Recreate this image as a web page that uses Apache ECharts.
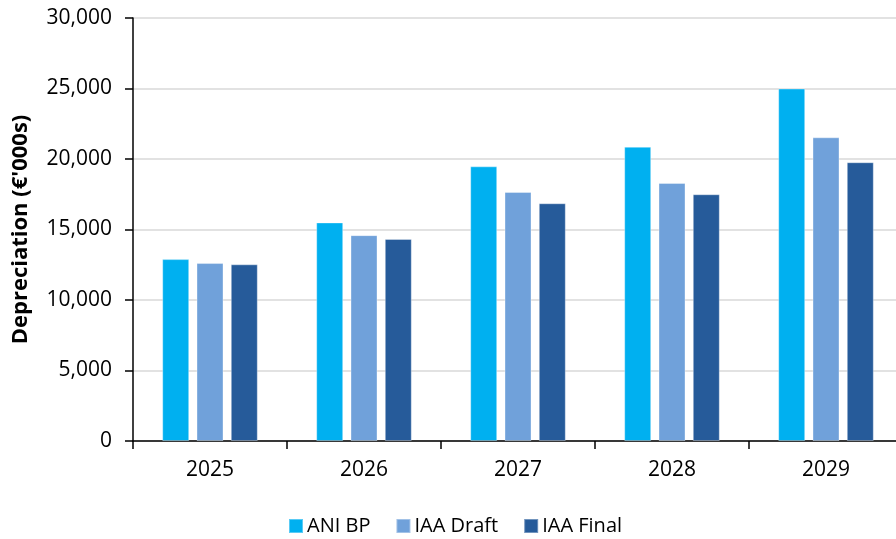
<!DOCTYPE html>
<html>
<head>
<meta charset="utf-8">
<script src="https://cdn.jsdelivr.net/npm/echarts@6/dist/echarts.min.js"></script>
<style>
  html, body { margin: 0; padding: 0; background: #ffffff; }
  #chart { width: 896px; height: 539px; }
</style>
</head>
<body>
<div id="chart"></div>
<script>
// Depreciation by year, three scenarios (€'000s)
const years = ['2025', '2026', '2027', '2028', '2029'];
const aniBP = [12900, 15500, 19480, 20870, 25000];
const iaaDraft = [12620, 14600, 17660, 18300, 21540];
const iaaFinal = [12530, 14330, 16860, 17500, 19770];
const seriesNames = ['ANI BP', 'IAA Draft', 'IAA Final'];
const seriesColors = ['#00B0F0', '#70A1DA', '#265B9A'];

const font = '"Open Sans", "Liberation Sans", sans-serif';
const chart = echarts.init(document.getElementById('chart'), null, { renderer: 'canvas' });

const makeBar = (name, data, color) => ({
  name: name,
  type: 'bar',
  data: data,
  barWidth: 27,
  barGap: '27%',
  itemStyle: { color: color, borderColor: 'rgba(255,255,255,0.35)', borderWidth: 1 }
});

chart.setOption({
  animation: false,
  backgroundColor: '#ffffff',
  textStyle: { fontFamily: font },
  grid: { left: 133, top: 18, bottom: 98, width: 770, containLabel: false, outerBoundsMode: 'none' },
  legend: {
    bottom: -2,
    left: 283,
    itemWidth: 14,
    itemHeight: 14,
    itemGap: 25,
    icon: 'rect',
    textStyle: { fontSize: 20, color: '#000000', fontFamily: font, padding: [0, 0, 0, -1] },
    data: seriesNames
  },
  xAxis: {
    type: 'category',
    data: years,
    axisLine: { lineStyle: { color: '#000000', width: 1.5 } },
    axisTick: { show: true, length: 8, alignWithLabel: false, lineStyle: { color: '#000000', width: 1.5 } },
    axisLabel: { fontSize: 21, color: '#000000', margin: 19, fontFamily: font }
  },
  yAxis: {
    type: 'value',
    min: 0,
    max: 30000,
    interval: 5000,
    name: "Depreciation (€'000s)",
    nameLocation: 'middle',
    nameGap: 101,
    nameTextStyle: { fontSize: 22, fontWeight: 'bold', color: '#000000', fontFamily: font },
    axisLine: { show: true, lineStyle: { color: '#000000', width: 1.5 } },
    axisTick: { show: true, length: 8, lineStyle: { color: '#000000', width: 1.5 } },
    axisLabel: {
      fontSize: 21, color: '#000000', margin: 21, fontFamily: font,
      formatter: v => v.toLocaleString('en-US')
    },
    splitLine: { show: true, lineStyle: { color: '#D9D9D9', width: 1.5 } }
  },
  series: [
    makeBar(seriesNames[0], aniBP, seriesColors[0]),
    makeBar(seriesNames[1], iaaDraft, seriesColors[1]),
    makeBar(seriesNames[2], iaaFinal, seriesColors[2])
  ]
});
</script>
</body>
</html>
